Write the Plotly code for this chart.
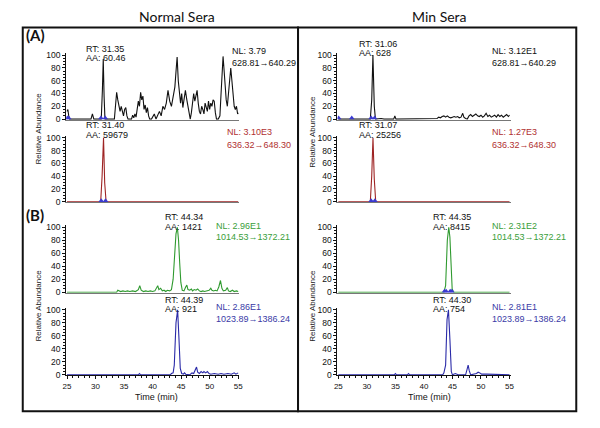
import plotly.graph_objects as go

# ---------------- data (time in min, relative abundance in %) ----------------
normal_628_t = [25.0, 25.15, 25.3, 25.45, 29.2, 29.45, 29.7, 31.0, 31.2, 31.35, 31.5, 31.65,
                33.3, 33.5, 33.7, 33.9, 34.1, 34.3, 34.5, 34.7, 34.9, 35.1, 35.3, 35.5, 35.7,
                36.3, 36.5, 36.7, 36.9, 37.1, 37.3, 37.5, 37.7, 37.9, 38.1, 38.3, 38.5, 38.7,
                38.9, 39.1, 39.3, 39.5, 39.8, 40.0, 40.3, 40.6, 40.9, 41.2, 41.5, 41.8, 42.1,
                42.4, 42.7, 43.0, 43.3, 43.6, 43.9, 44.15, 44.3, 44.5, 44.7, 44.9, 45.1, 45.3,
                45.5, 45.75, 46.0, 46.2, 46.4, 46.6, 46.8, 47.0, 47.2, 47.4, 47.6, 47.8, 48.0,
                48.2, 48.4, 48.6, 48.8, 49.0, 49.2, 49.4, 49.6, 49.8, 50.0, 50.2, 50.4, 50.6,
                50.8, 51.0, 51.2, 51.5, 51.8, 52.0, 52.2, 52.35, 52.5, 52.7, 52.9, 53.1, 53.3,
                53.5, 53.7, 53.9, 54.1, 54.3, 54.5, 54.7, 54.9, 55.0]
normal_628_v = [12, 15, 5, 0, 0, 8, 0, 0, 45, 94, 35, 0,
                0, 20, 42, 30, 22, 12, 20, 10, 5, 15, 18, 5, 0,
                0, 6, 2, 8, 3, 15, 28, 20, 42, 30, 36, 15, 22,
                10, 18, 5, 0, 0, 3, 8, 0, 5, 12, 5, 20, 15,
                25, 45, 28, 20, 35, 50, 80, 97, 60, 35, 25, 40, 18,
                30, 45, 30, 20, 5, 0, 10, 25, 40, 28, 35, 45, 25,
                12, 8, 20, 15, 8, 25, 18, 12, 28, 15, 25, 20, 30,
                28, 10, 0, 0, 5, 40, 75, 98, 80, 45, 30, 20, 40,
                65, 80, 60, 35, 20, 15, 20, 8, 10]
normal_628_marks = [25.05, 25.3, 30.95, 31.7]

normal_636_t = [25.0, 30.9, 31.15, 31.40, 31.6, 31.85, 55.0]
normal_636_v = [0, 0, 40, 100, 30, 0, 0]
normal_636_marks = [31.0, 31.75]

normal_1014_t = [25.0, 33.7, 33.9, 34.1, 34.4, 34.8, 35.2, 35.6, 36.0, 36.5, 37.0, 37.5, 37.75,
                 38.0, 38.4, 38.8, 39.2, 39.6, 40.0, 40.4, 40.7, 40.9, 41.1, 41.4, 41.7, 42.0,
                 42.3, 42.6, 43.0, 43.3, 43.6, 43.85, 44.1, 44.34, 44.55, 44.75, 44.95, 45.2,
                 45.5, 45.8, 46.0, 46.2, 46.5, 46.8, 47.0, 47.3, 47.6, 47.9, 48.2, 48.5, 48.8,
                 49.1, 49.5, 49.9, 50.2, 50.4, 50.7, 51.0, 51.3, 51.6, 51.9, 52.15, 52.4, 52.8,
                 53.1, 53.3, 53.6, 54.0, 54.3, 54.7, 55.0]
normal_1014_v = [0, 0, 3, 2, 1, 2, 1, 2, 1, 2, 1, 4, 10,
                 3, 1, 2, 1, 2, 1, 2, 8, 10, 4, 6, 2, 3,
                 1, 3, 2, 4, 20, 60, 90, 100, 80, 45, 15, 3,
                 2, 8, 11, 4, 3, 5, 2, 4, 3, 5, 2, 1, 2,
                 1, 2, 3, 6, 3, 2, 3, 2, 8, 18, 6, 2, 3,
                 7, 2, 1, 3, 1, 2, 1]

normal_1023_t = [25.0, 34.3, 34.5, 34.7, 37.5, 37.7, 37.9, 43.1, 43.3, 43.6, 43.8, 44.1, 44.39,
                 44.6, 44.85, 45.1, 45.4, 45.6, 45.8, 46.5, 46.9, 47.2, 47.5, 47.7, 47.9, 48.2,
                 48.5, 48.8, 49.0, 49.3, 49.6, 49.9, 50.2, 50.8, 51.5, 52.0, 52.5, 53.2, 53.8,
                 54.3, 54.6, 55.0]
normal_1023_v = [0, 0, 1, 0, 0, 2, 0, 0, 2, 3, 15, 80, 100,
                 60, 10, 2, 1, 3, 1, 0, 3, 2, 8, 12, 4, 2,
                 5, 3, 5, 3, 5, 2, 1, 2, 1, 2, 1, 2, 1,
                 3, 1, 3]

min_628_t = [25.0, 27.2, 27.35, 27.5, 30.6, 30.85, 31.06, 31.3, 31.5, 32.5, 33.0, 34.7, 34.9,
             35.1, 36.5, 36.7, 37.0, 37.5, 38.5, 39.5, 40.5, 41.5, 42.3, 42.6, 42.9, 43.2,
             43.5, 43.8, 44.1, 44.4, 44.7, 45.0, 45.3, 45.6, 45.9, 46.2, 46.5, 46.8, 47.0,
             47.3, 47.6, 47.9, 48.2, 48.5, 48.8, 49.1, 49.4, 49.7, 50.0, 50.3, 50.6, 50.9,
             51.2, 51.5, 51.8, 52.1, 52.4, 52.7, 53.0, 53.3, 53.6, 53.9, 54.2, 54.5, 54.8, 55.0]
min_628_v = [0, 0, 1, 0, 0, 30, 100, 20, 0, 1, 0, 0, 5,
             0, 0, 1, 0, 1, 0, 1, 0, 1, 1, 3, 2, 4,
             5, 3, 5, 3, 2, 3, 4, 3, 4, 2, 3, 9, 3,
             1, 0, 5, 7, 4, 6, 8, 5, 4, 6, 3, 5, 9,
             4, 6, 3, 5, 6, 3, 7, 4, 6, 3, 5, 7, 4, 6]
min_628_marks = [25.05, 27.35, 30.75, 31.35]

min_636_t = [25.0, 30.6, 30.85, 31.07, 31.3, 31.55, 55.0]
min_636_v = [0, 0, 40, 100, 35, 0, 0]
min_636_marks = [30.75, 31.4]

min_1014_t = [25.0, 37.0, 37.2, 37.5, 40.8, 41.0, 41.2, 43.5, 43.8, 44.1, 44.35, 44.55, 44.75,
              44.95, 45.2, 51.0, 51.2, 51.4, 55.0]
min_1014_v = [0, 0, 1, 0, 0, 1, 0, 0, 10, 80, 100, 85, 45,
              5, 0, 0, 1, 0, 0]
min_1014_marks = [43.6, 43.9, 44.6, 44.9]

min_1023_t = [25.0, 34.8, 35.0, 35.2, 37.1, 37.3, 37.5, 43.3, 43.5, 43.8, 44.05, 44.30, 44.55,
              44.8, 45.0, 45.5, 46.0, 47.3, 47.55, 47.75, 47.95, 48.2, 49.2, 49.5, 49.8,
              50.1, 51.0, 52.0, 53.0, 54.0, 55.0]
min_1023_v = [0, 0, 2, 0, 0, 2, 0, 0, 3, 15, 85, 100, 55,
              5, 0, 2, 0, 0, 8, 15, 6, 0, 2, 4, 3,
              1, 1, 1, 1, 1, 0]

panel_titles = ["Normal Sera", "Min Sera"]
rt_labels = [["RT: 31.35", "RT: 31.40", "RT: 44.34", "RT: 44.39"],
             ["RT: 31.06", "RT: 31.07", "RT: 44.35", "RT: 44.30"]]
aa_labels = [["AA: 60.46", "AA: 59679", "AA: 1421", "AA: 921"],
             ["AA: 628", "AA: 25256", "AA: 8415", "AA: 754"]]
nl_labels = [["NL: 3.79", "NL: 3.10E3", "NL: 2.96E1", "NL: 2.86E1"],
             ["NL: 3.12E1", "NL: 1.27E3", "NL: 2.31E2", "NL: 2.81E1"]]
transitions = ["628.81→640.29", "636.32→648.30", "1014.53→1372.21", "1023.89→1386.24"]
x_ticks = [25, 30, 35, 40, 45, 50, 55]
y_ticks = [0, 20, 40, 60, 80, 100]

# ---------------- layout helpers ----------------
W, H = 600, 428
FONT = "Liberation Sans, Arial, sans-serif"
LBL = 9
def px(x): return x / W
def py(y): return 1 - y / H

trace_colors = ["#111111", "#9e2424", "#2f9a2f", "#2a2aa8"]
label_colors = ["#111111", "#b03030", "#3a9e3a", "#3a3aa6"]
mark_color = "#3a3ad0"

series = [
    [(normal_628_t, normal_628_v, normal_628_marks), (normal_636_t, normal_636_v, normal_636_marks),
     (normal_1014_t, normal_1014_v, []), (normal_1023_t, normal_1023_v, [])],
    [(min_628_t, min_628_v, min_628_marks), (min_636_t, min_636_v, min_636_marks),
     (min_1014_t, min_1014_v, min_1014_marks), (min_1023_t, min_1023_v, [])],
]

col_x = [(63, 238.5), (338, 513.5)]
row_y = [(118, 53), (202, 137), (294, 228), (378, 312)]  # (pixel of 0, pixel of 100)
rt_pos = [[(82, 46.5), (82, 124.5), (162, 217.5), (162, 301.5)],
          [(359, 41.5), (359, 124.5), (434, 217.5), (434, 301.5)]]
aa_dy = [9.5, 9.5, 10, 9.5]
nl_pos = [[(230, 49), (225, 131), (214, 227), (214, 309)],
          [(494, 49), (494, 131), (494, 227), (494, 309)]]
nl_dy = [12, 13, 11, 12]

fig = go.Figure()
layout = {}
annotations = []
n = 0
for c in range(2):
    for r in range(4):
        n += 1
        xa = "x" if n == 1 else f"x{n}"
        ya = "y" if n == 1 else f"y{n}"
        t, v, marks = series[c][r]
        fig.add_trace(go.Scatter(x=t, y=v, mode="lines", xaxis=xa, yaxis=ya,
                                 line=dict(color=trace_colors[r], width=1.1),
                                 hoverinfo="skip", showlegend=False))
        if marks:
            fig.add_trace(go.Scatter(x=marks, y=[1.5] * len(marks), mode="markers",
                                     xaxis=xa, yaxis=ya,
                                     marker=dict(symbol="triangle-up", size=5, color=mark_color),
                                     hoverinfo="skip", showlegend=False))
        y0, y100 = row_y[r]
        scale = (y0 - y100) / 100.0
        bottom = y0 + 1 * scale
        top = y100 - 3 * scale
        is_bottom = (r == 3)
        layout["xaxis" if n == 1 else f"xaxis{n}"] = dict(
            domain=[px(col_x[c][0]), px(col_x[c][1])], range=[24.85, 55.2],
            anchor=ya, showgrid=False, zeroline=False, showline=True,
            linecolor="#111111" if is_bottom else "#777777", linewidth=1,
            ticks="outside" if is_bottom else "", ticklen=3, tickcolor="#111111",
            tickvals=x_ticks, showticklabels=is_bottom,
            tickfont=dict(family=FONT, size=8, color="#111111"),
            minor=dict(ticks="outside", ticklen=2, dtick=1, tickcolor="#111111") if is_bottom else None,
        )
        layout["yaxis" if n == 1 else f"yaxis{n}"] = dict(
            domain=[py(bottom), py(top)], range=[-1, 103], anchor=xa,
            showgrid=False, zeroline=False, showline=True, linecolor="#111111", linewidth=1,
            ticks="outside", ticklen=3, tickcolor="#111111", tickvals=y_ticks,
            tickfont=dict(family=FONT, size=8.5, color="#111111"),
            minor=dict(ticks="outside", ticklen=2, dtick=5, tickcolor="#111111"),
        )
        # peak labels
        rx, ry = rt_pos[c][r]
        annotations.append(dict(x=px(rx), y=py(ry), text=rt_labels[c][r]))
        annotations.append(dict(x=px(rx), y=py(ry + aa_dy[r]), text=aa_labels[c][r]))
        nx, ny = nl_pos[c][r]
        annotations.append(dict(x=px(nx), y=py(ny), text=nl_labels[c][r],
                                font=dict(family=FONT, size=LBL, color=label_colors[r])))
        annotations.append(dict(x=px(nx), y=py(ny + nl_dy[r]), text=transitions[r],
                                font=dict(family=FONT, size=LBL, color=label_colors[r])))

for a in annotations:
    a.setdefault("font", dict(family=FONT, size=LBL, color="#111111"))
    a.update(xref="paper", yref="paper", xanchor="left", yanchor="middle", showarrow=False,
             borderpad=0)

# y-axis titles
for xc, yc in [(35, 128), (35, 308), (313, 131), (313, 308)]:
    annotations.append(dict(x=px(xc), y=py(yc), xref="paper", yref="paper", text="Relative Abundance",
                            textangle=-90, showarrow=False, xanchor="center", yanchor="middle",
                            font=dict(family=FONT, size=8, color="#222222")))
# x-axis titles
for xc in [155, 431]:
    annotations.append(dict(x=px(xc), y=py(401), xref="paper", yref="paper", text="Time (min)",
                            showarrow=False, xanchor="center", yanchor="middle", borderpad=0,
                            font=dict(family=FONT, size=9, color="#111111")))
# column titles
for xc, txt in [(175, panel_titles[0]), (441, panel_titles[1])]:
    annotations.append(dict(x=px(xc), y=py(14), xref="paper", yref="paper", text=txt,
                            showarrow=False, xanchor="center", yanchor="middle",
                            font=dict(family="Lato, Open Sans, sans-serif", size=14, color="#111111")))
# section labels
for yc, txt in [(33, "(A)"), (216, "(B)")]:
    annotations.append(dict(x=px(20), y=py(yc), xref="paper", yref="paper", text=f"<b>{txt}</b>",
                            showarrow=False, xanchor="left", yanchor="middle",
                            font=dict(family="Lato, Open Sans, sans-serif", size=15, color="#111111")))

shapes = [
    dict(type="rect", xref="paper", yref="paper", x0=px(19), x1=px(298), y0=py(415), y1=py(25),
         line=dict(color="#111111", width=2)),
    dict(type="rect", xref="paper", yref="paper", x0=px(298), x1=px(580), y0=py(415), y1=py(25),
         line=dict(color="#111111", width=2)),
]

fig.update_layout(width=W, height=H, margin=dict(l=0, r=0, t=0, b=0),
                  paper_bgcolor="white", plot_bgcolor="white",
                  annotations=annotations, shapes=shapes, **layout)
fig.write_html("out.html", config={"displayModeBar": False},
               post_script="document.body.style.margin='0';document.body.style.overflow='hidden';")
